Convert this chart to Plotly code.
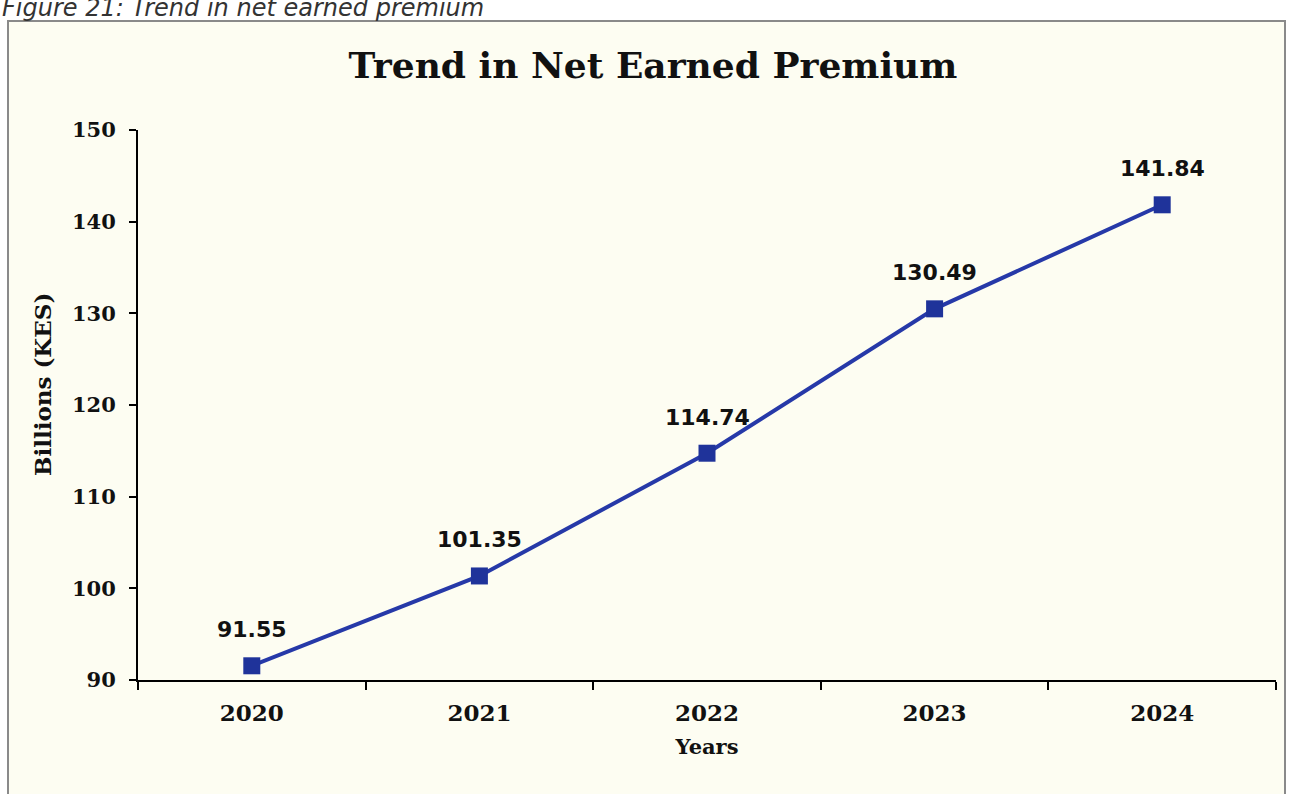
import plotly.graph_objects as go

# Net earned premium, KES billions
years = ["2020", "2021", "2022", "2023", "2024"]
premium = [91.55, 101.35, 114.74, 130.49, 141.84]
y_ticks = [90, 100, 110, 120, 130, 140, 150]

W, H = 1290, 794
L, R, T, B = 138, 14, 130, 114
pw, ph = W - L - R, H - T - B


def px_x(p):
    return (p - L) / pw


def px_y(p):
    return (H - B - p) / ph


serif = "DejaVu Serif"

fig = go.Figure()
fig.add_trace(go.Scatter(
    x=years, y=premium, mode="lines+markers",
    line=dict(color="#2639A8", width=4),
    marker=dict(symbol="square", size=17, color="#1F339A"),
    showlegend=False, hoverinfo="x+y",
))

# data labels above each point (category index as x)
for i, v in enumerate(premium):
    fig.add_annotation(x=i, y=v, xref="x", yref="y", text=f"<b>{v:.2f}</b>",
                       showarrow=False, yshift=36,
                       font=dict(family="DejaVu Sans", size=22, color="#111111"))

fig.update_layout(
    width=W, height=H,
    margin=dict(l=L, r=R, t=T, b=B, autoexpand=False),
    paper_bgcolor="white",
    plot_bgcolor="rgba(0,0,0,0)",
    title=dict(text="<b>Trend in Net Earned Premium</b>", x=653 / W, xanchor="center",
               y=1 - 65 / H, yanchor="middle",
               font=dict(family=serif, size=36, color="#111111")),
    shapes=[dict(type="rect", xref="paper", yref="paper", layer="below",
                 x0=px_x(8), x1=px_x(1285), y0=px_y(805), y1=px_y(21),
                 fillcolor="#FDFDF2", line=dict(color="#8A8A8A", width=2))],
)

# caption, cut off at the top of the page
fig.add_annotation(xref="paper", yref="paper", x=px_x(0), y=px_y(-8),
                   xanchor="left", yanchor="top", showarrow=False,
                   text="<i>Figure 21: Trend in net earned premium</i>",
                   font=dict(family="DejaVu Sans", size=24, color="#333333"))

# y axis title
fig.add_annotation(xref="paper", yref="paper", x=px_x(42), y=px_y(385),
                   xanchor="center", yanchor="middle", showarrow=False, textangle=-90,
                   text="<b>Billions (KES)</b>",
                   font=dict(family=serif, size=23, color="#111111"))

fig.update_xaxes(
    type="category", range=[-0.5, 4.5], automargin=False,
    showline=True, linecolor="black", linewidth=2,
    ticks="outside", tickson="boundaries", ticklen=8, tickwidth=2, tickcolor="black",
    showgrid=False, zeroline=False, ticklabelstandoff=11,
    tickfont=dict(family=serif, size=23, color="#111111", weight="bold"),
    title=dict(text="<b>Years</b>", standoff=15,
               font=dict(family=serif, size=21, color="#111111")),
)
fig.update_yaxes(
    range=[90, 150], tickvals=y_ticks, automargin=False,
    showline=True, linecolor="black", linewidth=2,
    ticks="outside", ticklen=7, tickwidth=2, tickcolor="black",
    showgrid=False, zeroline=False, ticklabelstandoff=9,
    tickfont=dict(family=serif, size=21, color="#111111", weight="bold"),
)

fig.write_html("out.html", config={"displayModeBar": False},
               post_script="document.body.style.margin='0';")
